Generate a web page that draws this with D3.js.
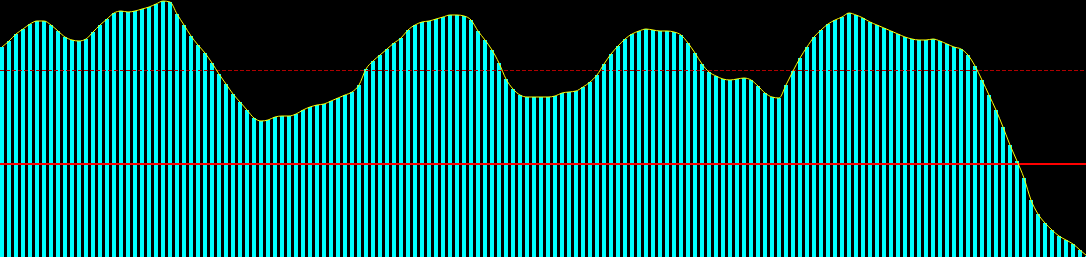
<!DOCTYPE html>
<html>
<head>
<meta charset="utf-8">
<script src="https://cdn.jsdelivr.net/npm/d3@7"></script>
<style>
html,body{margin:0;padding:0;background:#000;overflow:hidden;}
svg{display:block;}
</style>
</head>
<body>
<svg id="chart" width="1086" height="257"></svg>
<script>
// Heights (0 = bottom, 257 = top of plot), one per bar
const tops = [47,41,34,29,24,21,21,25,31,37,40,41,39,32,25,19,13,11,12,11,
  9,7,4,1,2,14,25,36,45,53,63,74,84,94,102,110,118,121,120,117,
  116,116,114,110,107,105,104,101,98,95,92,85,69,61,55,49,43,38,30,25,
  22,21,19,17,15,15,16,20,31,40,50,63,79,89,95,97,97,97,97,96,
  93,92,91,87,82,75,64,54,46,39,34,31,29,30,31,31,32,35,43,53,
  64,72,76,79,80,79,78,80,86,93,97,98,85,71,58,47,37,30,24,20,
  17,13,15,18,22,25,28,31,34,37,39,40,40,39,41,44,47,49,55,66,
  80,95,110,127,145,161,178,200,214,223,230,236,240,244,250,256];
const values = tops.map(t => 257 - t);
const upperLimit = [186.5]; // dashed threshold
const lowerLimit = [93];    // solid threshold

const W = 1086, H = 257;
const svg = d3.select("#chart");
svg.append("rect").attr("width", W).attr("height", H).attr("fill", "#000");

const x = d3.scaleLinear().domain([0, values.length - 1]).range([0, 1085]);
const y = d3.scaleLinear().domain([0, 257]).range([257, 0]);
const barW = 4;

svg.append("g").selectAll("rect").data(values).join("rect")
  .attr("x", (d, i) => x(i))
  .attr("y", d => y(d))
  .attr("width", barW)
  .attr("height", d => y(0) - y(d))
  .attr("fill", "#00ffff")
  .attr("shape-rendering", "crispEdges");

svg.append("line")
  .attr("x1", 0).attr("x2", W)
  .attr("y1", y(upperLimit[0])).attr("y2", y(upperLimit[0]))
  .attr("stroke", "#b00000").attr("stroke-width", 1)
  .attr("stroke-dasharray", "4,2")
  .attr("shape-rendering", "crispEdges");

svg.append("line")
  .attr("x1", 0).attr("x2", W)
  .attr("y1", y(lowerLimit[0])).attr("y2", y(lowerLimit[0]))
  .attr("stroke", "#ff0000").attr("stroke-width", 2)
  .attr("shape-rendering", "crispEdges");

const line = d3.line()
  .x((d, i) => x(i) + barW / 2)
  .y(d => y(d))
  .curve(d3.curveMonotoneX);

svg.append("path").datum(values)
  .attr("d", line)
  .attr("fill", "none")
  .attr("stroke", "#ffff00")
  .attr("stroke-width", 1);
</script>
</body>
</html>
